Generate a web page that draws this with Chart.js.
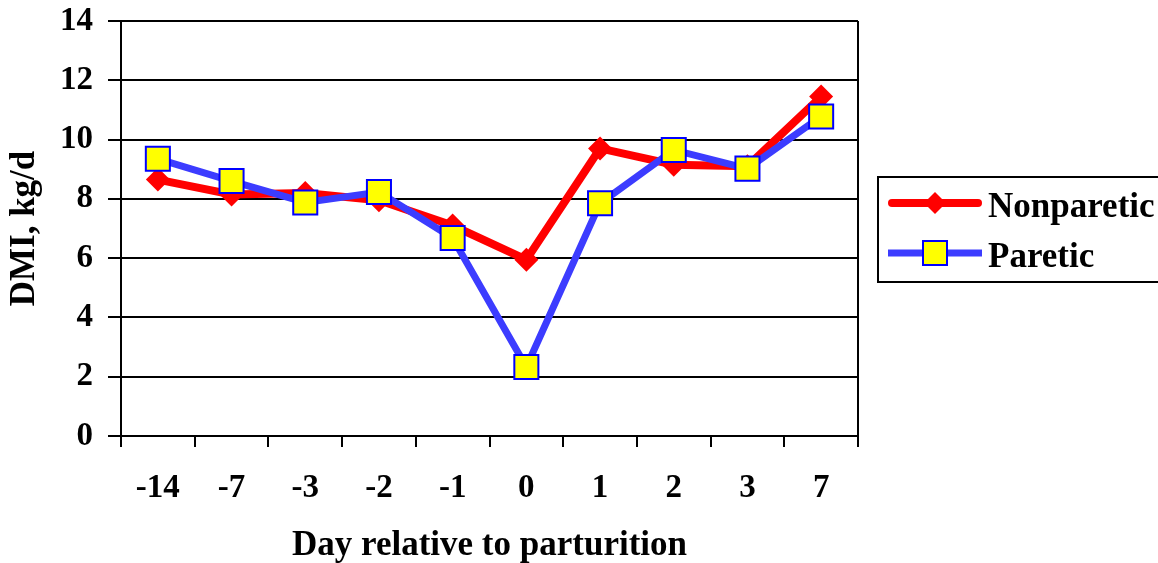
<!DOCTYPE html>
<html>
<head>
<meta charset="utf-8">
<script src="https://cdn.jsdelivr.net/npm/chart.js@4"></script>
<style>
  html, body { margin: 0; padding: 0; background: #ffffff; }
  #wrap { width: 1158px; height: 563px; position: relative; }
</style>
</head>
<body>
<div id="wrap"><canvas id="c" width="1158" height="563"></canvas></div>
<script>
const categories = ['-14', '-7', '-3', '-2', '-1', '0', '1', '2', '3', '7'];
const nonparetic = [8.65, 8.15, 8.2, 7.95, 7.1, 5.95, 9.7, 9.15, 9.1, 11.45];
const paretic = [9.35, 8.6, 7.88, 8.23, 6.68, 2.33, 7.85, 9.65, 9.02, 10.78];
const seriesNames = ['Nonparetic', 'Paretic'];
const yTicks = [0, 2, 4, 6, 8, 10, 12, 14];

const FONT = '"Liberation Serif", "Times New Roman", serif';

const customLegend = {
  id: 'customLegend',
  afterDraw(chart) {
    const ctx = chart.ctx;
    const a = chart.chartArea;
    const bx = a.right + 20;
    const by = 177;
    const bh = 105;
    ctx.save();
    ctx.fillStyle = '#ffffff';
    ctx.fillRect(bx, by, 300, bh);
    ctx.lineWidth = 2;
    ctx.strokeStyle = '#000000';
    ctx.strokeRect(bx, by, 300, bh);
    const rows = [203, 253];
    chart.data.datasets.forEach((ds, i) => {
      const y = rows[i];
      const x0 = bx + 10, x1 = bx + 104;
      const cx = (x0 + x1) / 2;
      ctx.beginPath();
      ctx.lineCap = ds.borderCapStyle || 'butt';
      ctx.lineWidth = ds.borderWidth;
      ctx.strokeStyle = ds.borderColor;
      ctx.moveTo(x0 + (ctx.lineCap === 'round' ? 4 : 0), y);
      ctx.lineTo(x1 - (ctx.lineCap === 'round' ? 4 : 0), y);
      ctx.stroke();
      ctx.beginPath();
      if (ds.pointStyle === 'rectRot') {
        const r = 11;
        ctx.moveTo(cx - r, y); ctx.lineTo(cx, y - r); ctx.lineTo(cx + r, y); ctx.lineTo(cx, y + r);
        ctx.closePath();
        ctx.fillStyle = ds.pointBackgroundColor;
        ctx.fill();
      } else {
        const s = 12;
        ctx.rect(cx - s, y - s, 2 * s, 2 * s);
        ctx.fillStyle = ds.pointBackgroundColor;
        ctx.fill();
        ctx.lineWidth = 2;
        ctx.strokeStyle = ds.pointBorderColor;
        ctx.stroke();
      }
      ctx.fillStyle = '#000000';
      ctx.font = 'bold 35px ' + FONT;
      ctx.textAlign = 'left';
      ctx.textBaseline = 'alphabetic';
      ctx.fillText(ds.label, bx + 110, y + 14);
    });
    ctx.restore();
  }
};

const frame = {
  id: 'frame',
  beforeDatasetsDraw(chart) {
    const a = chart.chartArea;
    const ctx = chart.ctx;
    ctx.save();
    ctx.strokeStyle = '#000000';
    ctx.lineWidth = 2;
    ctx.beginPath();
    ctx.moveTo(a.right, a.top);
    ctx.lineTo(a.right, a.bottom);
    ctx.stroke();
    ctx.restore();
  }
};

new Chart(document.getElementById('c'), {
  type: 'line',
  data: {
    labels: categories,
    datasets: [
      {
        label: seriesNames[0],
        data: nonparetic,
        borderColor: '#ff0000',
        backgroundColor: '#ff0000',
        borderWidth: 8,
        borderCapStyle: 'round',
        pointStyle: 'rectRot',
        pointRadius: 12,
        pointBackgroundColor: '#ff0000',
        pointBorderColor: '#ff0000',
        pointBorderWidth: 0,
        tension: 0,
        order: 1
      },
      {
        label: seriesNames[1],
        data: paretic,
        borderColor: '#3c3cff',
        backgroundColor: '#ffff00',
        borderWidth: 7,
        borderCapStyle: 'butt',
        pointStyle: 'rect',
        pointRadius: 17,
        pointBackgroundColor: '#ffff00',
        pointBorderColor: '#0000ff',
        pointBorderWidth: 2,
        tension: 0,
        order: 0
      }
    ]
  },
  options: {
    responsive: false,
    animation: false,
    events: [],
    layout: { padding: { top: 21, right: 300, left: 0, bottom: 0 } },
    plugins: {
      tooltip: { enabled: false },
      legend: { display: false }
    },
    scales: {
      x: {
        type: 'category',
        offset: true,
        afterFit(s) { s.height = 127; s.paddingLeft = 0; s.paddingRight = 0; },
        grid: {
          display: true,
          drawOnChartArea: false,
          drawTicks: true,
          tickLength: 11,
          offset: true,
          color: '#000000',
          lineWidth: 2
        },
        border: { display: true, color: '#000000', width: 2 },
        ticks: {
          color: '#000000',
          padding: 22,
          maxRotation: 0,
          autoSkip: false,
          font: { family: FONT, size: 33, weight: 'bold' }
        },
        title: {
          display: true,
          text: 'Day relative to parturition',
          color: '#000000',
          font: { family: FONT, size: 35, weight: 'bold', lineHeight: 1 },
          padding: { top: 0, bottom: 0 }
        }
      },
      y: {
        min: 0,
        max: 14,
        afterFit(s) { s.width = 121; s.paddingTop = 0; s.paddingBottom = 0; },
        afterBuildTicks(s) { s.ticks = yTicks.map(v => ({ value: v })); },
        grid: {
          display: true,
          drawOnChartArea: true,
          drawTicks: true,
          tickLength: 13,
          color: '#000000',
          lineWidth: 2
        },
        border: { display: true, color: '#000000', width: 2 },
        ticks: {
          color: '#000000',
          padding: 15,
          font: { family: FONT, size: 33, weight: 'bold' }
        },
        title: {
          display: true,
          text: 'DMI, kg/d',
          color: '#000000',
          font: { family: FONT, size: 35, weight: 'bold', lineHeight: 1 },
          padding: { top: 7, bottom: 0 }
        }
      }
    }
  },
  plugins: [frame, customLegend]
});
</script>
</body>
</html>
